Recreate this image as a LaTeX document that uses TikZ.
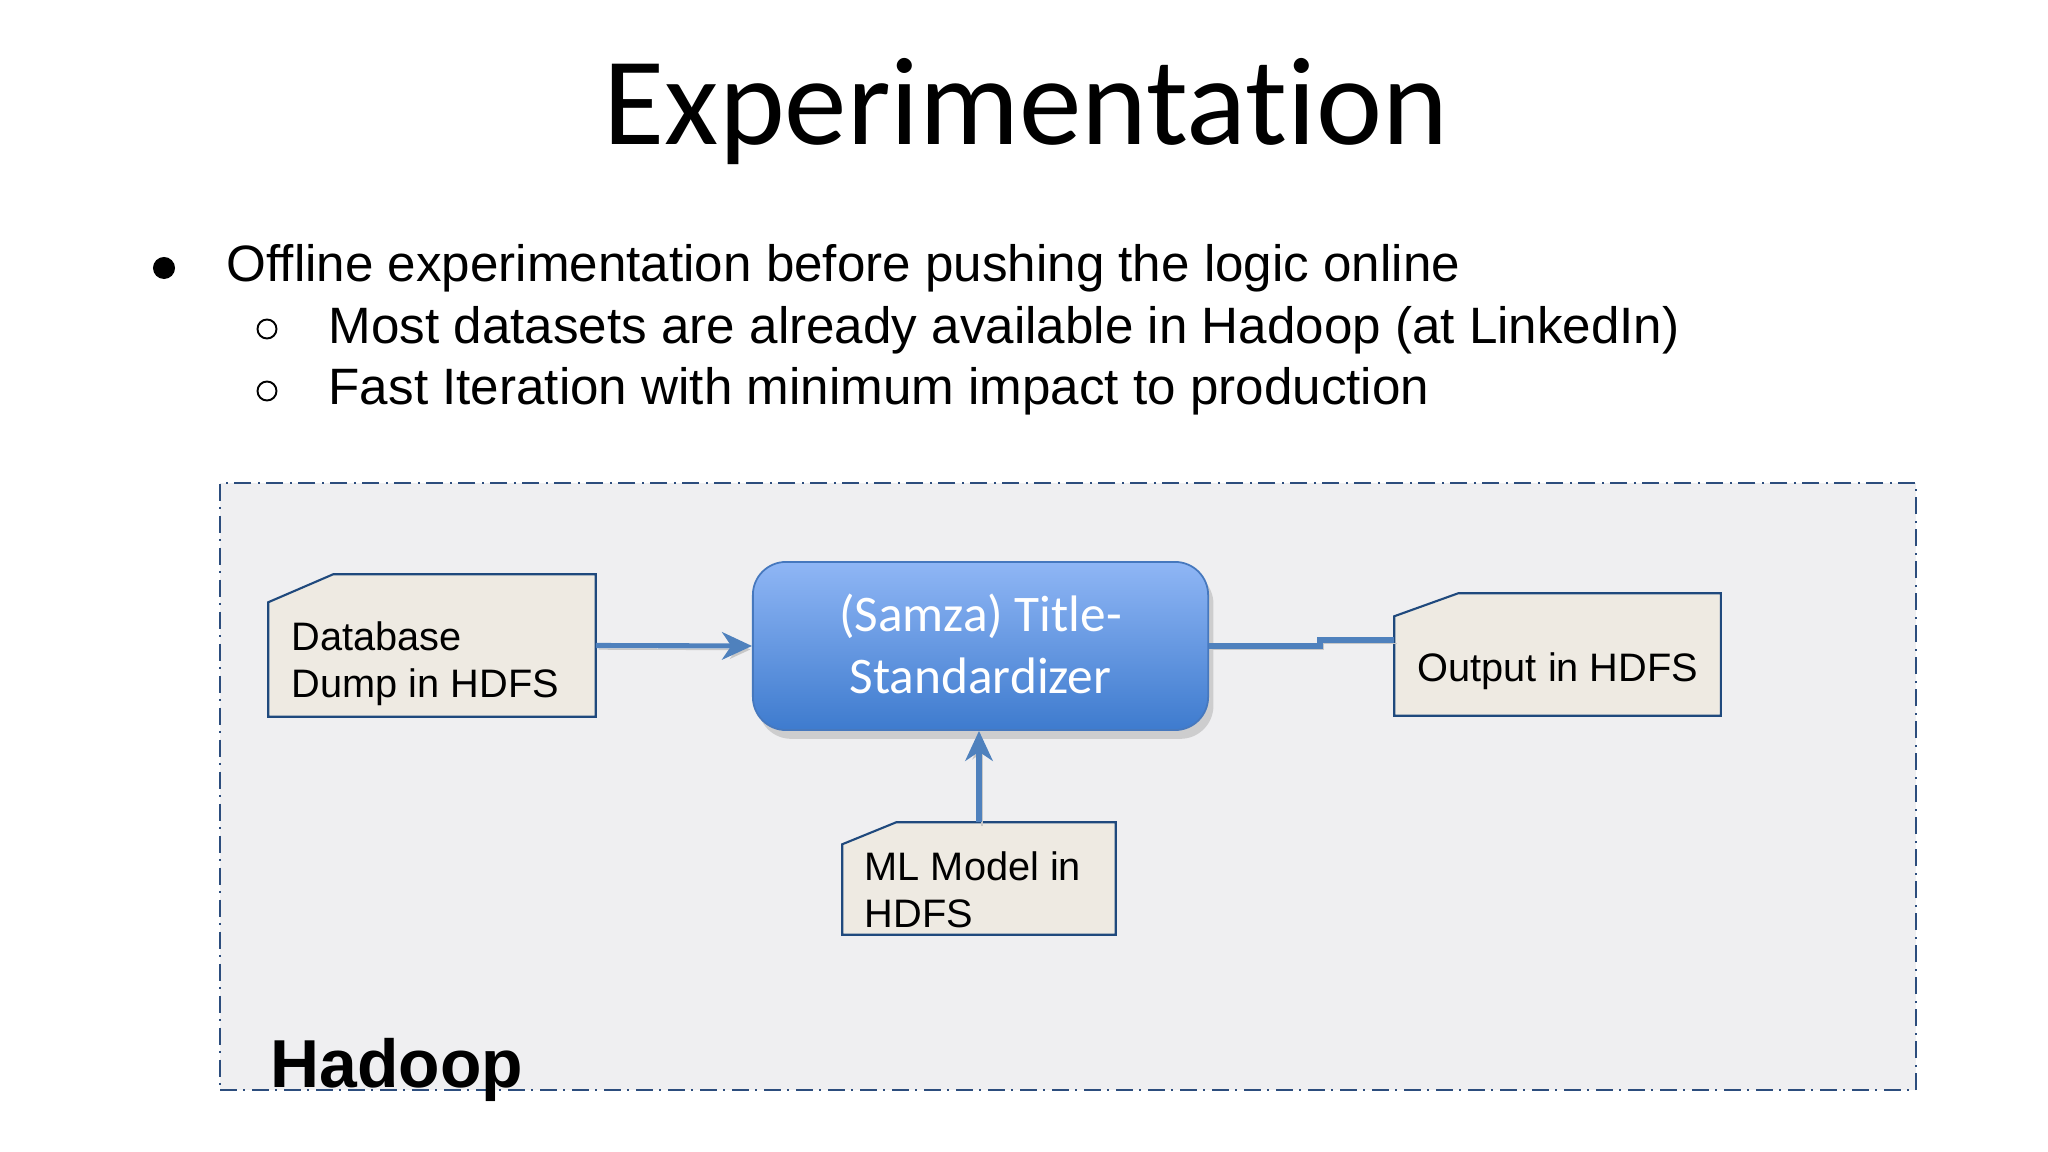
\documentclass[tikz,border=0pt]{standalone}
\usepackage{fontspec}
\setmainfont{Liberation Sans}
\newfontfamily\calib[Ligatures=NoCommon]{Carlito}
\usetikzlibrary{arrows.meta,shadows}
\definecolor{boxbg}{RGB}{239,239,241}
\definecolor{hadoopline}{RGB}{44,77,125}
\definecolor{docfill}{RGB}{238,234,226}
\definecolor{doclinec}{RGB}{31,73,125}
\definecolor{arrowblue}{RGB}{79,129,189}
\definecolor{samtop}{RGB}{143,182,245}
\definecolor{sambot}{RGB}{62,123,206}
\definecolor{samedge}{RGB}{70,120,190}
\tikzset{
  bullettext/.style={anchor=base west, inner sep=0, font=\fontsize{14.55}{17}\selectfont},
  doctext/.style={anchor=base west, inner sep=0, font=\fontsize{11.3}{13}\selectfont},
  samtext/.style={anchor=base, inner sep=0, text=white, font=\calib\fontsize{14.6}{17}\selectfont},
  docbox/.style={draw=none, inner sep=0, rectangle},
  docoutline/.style={draw=doclinec, line width=0.6pt, fill=docfill, line join=miter},
  conn/.style={draw=arrowblue, line width=1.45pt,
    preaction={draw=black!22, transform canvas={shift={(0.8pt,-1pt)}}}},
  conntip/.style={-{Stealth[length=8.5pt, width=7.8pt, inset=2.6pt]}},
  bulletdot/.style={circle, fill=black, inner sep=0, minimum size=0.22cm},
  subdot/.style={circle, draw=black, line width=0.55pt, inner sep=0, minimum size=0.19cm},
}
\begin{document}
\begin{tikzpicture}[x=0.01cm, y=-0.01cm]
\useasboundingbox (0,0) rectangle (2048,1152);
\fill[white] (0,0) rectangle (2048,1152);

% title
\node[anchor=base, inner sep=0, font=\calib\fontsize{35.6}{40}\selectfont] (title) at (1026,145) {Experimentation};

% bullets
\node[bulletdot] (d1) at (164,268) {};
\node[bullettext] (b1) at (226,282) {Offline experimentation before pushing the logic online};
\node[subdot] (d2) at (267,329) {};
\node[bullettext] (b2) at (328,344) {Most datasets are already available in Hadoop (at LinkedIn)};
\node[subdot] (d3) at (267,391) {};
\node[bullettext] (b3) at (328,405) {Fast Iteration with minimum impact to production};

% Hadoop region
\node[draw=hadoopline, fill=boxbg, line width=0.7pt,
      dash pattern=on 4.8pt off 1.8pt on 0.6pt off 1.9pt,
      inner sep=0, minimum width=16.95cm, minimum height=6.07cm] (hadoop) at (1068,786.5) {};
\node[anchor=base west, inner sep=0, font=\bfseries\fontsize{19.3}{22}\selectfont] (hadooplabel) at (270,1087) {Hadoop};

% document boxes (geometry)
\node[docbox, minimum width=3.26cm, minimum height=1.41cm] (db) at (432,645.5) {};
\node[docbox, minimum width=3.25cm, minimum height=1.21cm] (out) at (1557.5,654.5) {};
\node[docbox, minimum width=2.72cm, minimum height=1.11cm] (ml) at (979,878.5) {};

\path[docoutline] ([yshift=-0.28cm]db.north west) -- ([xshift=0.65cm]db.north west) -- (db.north east) -- (db.south east) -- (db.south west) -- cycle;
\path[docoutline] ([yshift=-0.23cm]out.north west) -- ([xshift=0.64cm]out.north west) -- (out.north east) -- (out.south east) -- (out.south west) -- cycle;
\path[docoutline] ([yshift=-0.22cm]ml.north west) -- ([xshift=0.54cm]ml.north west) -- (ml.north east) -- (ml.south east) -- (ml.south west) -- cycle;

\node[doctext] (dbt1) at (291,650) {Database};
\node[doctext] (dbt2) at (291,697) {Dump in HDFS};
\node[doctext] (outt) at (1417,681) {Output in HDFS};
\node[doctext] (mlt1) at (864,880) {ML Model in};
\node[doctext] (mlt2) at (864,927) {HDFS};

% Samza box
\node[rounded corners=0.33cm, draw=samedge, line width=0.5pt,
      top color=samtop, bottom color=sambot,
      drop shadow={shadow xshift=1.5pt, shadow yshift=-2.5pt, opacity=0.3},
      inner sep=0, minimum width=4.55cm, minimum height=1.68cm] (samza) at (980.5,646) {};
\node[samtext] (st1) at (980.5,632) {(Samza) Title-};
\node[samtext] (st2) at (980.5,693) {Standardizer};

% connectors
\coordinate (jog) at (1320,640);
\draw[conn, conntip] (db.east) -- (samza.west);
\draw[conn, conntip] (ml.north) -- (ml.north |- samza.south);
\draw[conn] (samza.east) -| (jog) -- (jog -| out.west);
\end{tikzpicture}
\end{document}
